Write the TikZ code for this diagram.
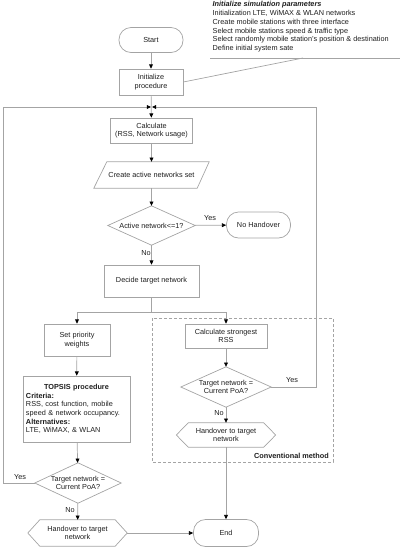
\documentclass[tikz,border=0pt]{standalone}
\usepackage{fontspec}
\setmainfont{Liberation Sans}
\usetikzlibrary{arrows.meta,calc}
\definecolor{ln}{HTML}{A4A4A4}
\definecolor{tx}{HTML}{1E1E1E}
\begin{document}
\begin{tikzpicture}[x=1pt,y=-1pt,
  font=\fontsize{7.3}{8.7}\selectfont, text=tx,
  box/.style={draw=ln, line width=0.7pt, align=center, inner sep=1pt},
  term/.style={box, rounded corners=12pt},
  shp/.style={inner sep=0pt, align=center},
  flow/.style={draw=ln, line width=0.7pt, -{Triangle[length=4.2pt,width=3.8pt,color=black]}},
  plain/.style={draw=ln, line width=0.7pt},
  lab/.style={inner sep=0pt}]
\useasboundingbox (0,0) rectangle (404,550);

% annotation
\node[anchor=north west, inner sep=0pt, align=left] (annot) at (212.5,1.5)
 {\textbf{\textit{Initialize simulation parameters}}\\
  Initialization LTE, WiMAX \& WLAN networks\\
  Create mobile stations with three interface\\
  Select mobile stations speed \& traffic type\\
  Select randomly mobile station's position \& destination\\
  Define initial system sate};
\coordinate (ul1) at (210,58);
\coordinate (ul2) at (400,58);
\coordinate (ulc) at (303,58);

% main column
\node[term, minimum width=64, minimum height=25] (start) at (151,40) {Start};
\node[box, minimum width=64, minimum height=26] (init) at (151,82) {Initialize\\procedure};
\coordinate (mL) at (151,107);
\coordinate (mR) at (152,107);
\coordinate (lloop) at (3,107);
\coordinate (rloop) at (316,107);
\node[box, minimum width=82, minimum height=25] (calc) at (151.5,130.5) {Calculate\\(RSS, Network usage)};
\node[shp, minimum width=115, minimum height=26] (aset) at (151.5,175) {Create active networks set};
\node[shp, minimum width=87, minimum height=39] (d1) at (151.5,225.5) {Active network<=1?};
\node[term, minimum width=64, minimum height=26] (noh) at (258.5,225) {No Handover};
\node[box, minimum width=95, minimum height=32] (decide) at (151.5,281) {Decide target network};
\coordinate (sp) at (151.5,312);

% left branch
\node[box, minimum width=66, minimum height=32] (prio) at (77,340) {Set priority\\weights};
\node[box, minimum width=107, minimum height=66, text width=101, align=left, inner sep=3pt] (topsis) at (76.5,409)
 {\makebox[101pt]{\textbf{TOPSIS procedure}}\\
  \textbf{Criteria:}\\
  RSS, cost function, mobile\\
  speed \& network occupancy.\\
  \textbf{Alternatives:}\\
  LTE, WiMAX, \& WLAN};
\node[shp, minimum width=86, minimum height=40] (d3) at (78,483) {Target network =\\Current PoA?};
\node[shp, minimum width=99, minimum height=26] (h1) at (77.5,533) {Handover to target\\network};
\node[term, minimum width=65, minimum height=27] (end) at (226,533) {End};

% right branch (conventional)
\draw[draw=ln, line width=0.7pt, dash pattern=on 3pt off 2pt] (152,318) rectangle (333,462);
\node[anchor=east, inner sep=0pt, font=\fontsize{7.3}{8.7}\selectfont\bfseries] (conv) at (329,456) {Conventional method};
\node[box, minimum width=82, minimum height=24] (strong) at (226,336) {Calculate strongest\\RSS};
\node[shp, minimum width=90, minimum height=40] (d2) at (226,387) {Target network =\\Current PoA?};
\node[shp, minimum width=99, minimum height=24] (h2) at (226,435) {Handover to target\\network};

% shapes drawn around plain nodes
\draw[plain] (aset.south west) -- ($(aset.north west)+(13,0)$) -- (aset.north east) -- ($(aset.south east)+(-12,0)$) -- cycle;
\foreach \n in {d1,d2,d3}
  \draw[plain] (\n.north) -- (\n.east) -- (\n.south) -- (\n.west) -- cycle;
\foreach \n in {h1,h2}
  \draw[plain] (\n.west) -- ($(\n.north west)+(12,0)$) -- ($(\n.north east)+(-12,0)$) -- (\n.east)
     -- ($(\n.south east)+(-12,0)$) -- ($(\n.south west)+(12,0)$) -- cycle;

% connectors
\draw[plain] (ul1) -- (ul2);
\draw[plain] (init.east) -- (ulc);
\draw[flow] (start) -- (init);
\draw[flow] (init) -- (calc);
\draw[flow] (calc) -- (aset);
\draw[flow] (aset) -- (d1);
\draw[flow] (d1) -- (noh);
\draw[flow] (d1) -- (decide);
\draw[plain] (decide) -- (sp);
\draw[flow] (sp) -| (prio);
\draw[flow] (sp) -| (strong);
\draw[flow] (prio) -- (topsis);
\draw[flow] (topsis) -- (d3);
\draw[flow] (d3) -- (h1);
\draw[flow] (h1) -- (end);
\draw[flow] (strong) -- (d2);
\draw[flow] (d2) -- (h2);
\draw[flow] (h2) -- (end);
\draw[flow] (d3.west) -| (lloop) -- (mL);
\draw[flow] (d2.east) -| (rloop) -- (mR);

% labels
\node[lab] (y1) at (210,218) {Yes};
\node[lab] (n1) at (146,253) {No};
\node[lab] (y2) at (292,380) {Yes};
\node[lab] (n2) at (219,413) {No};
\node[lab] (y3) at (20,477) {Yes};
\node[lab] (n3) at (70,510) {No};
\end{tikzpicture}
\end{document}
